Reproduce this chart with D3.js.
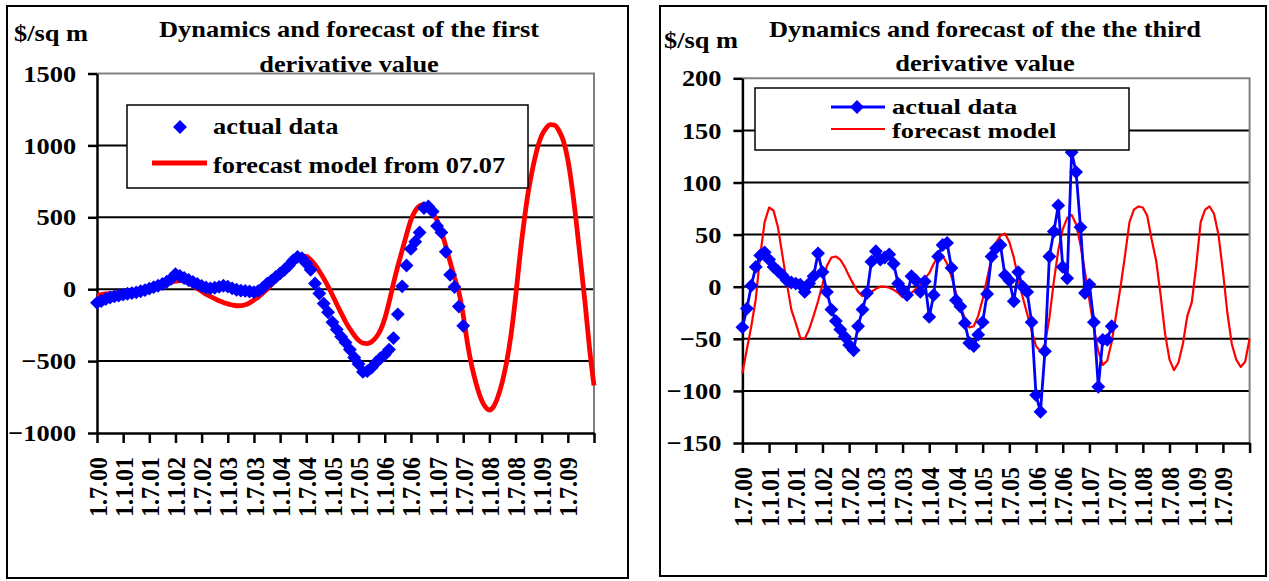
<!DOCTYPE html>
<html>
<head>
<meta charset="utf-8">
<script src="https://cdn.jsdelivr.net/npm/d3@7"></script>
<style>
  body { margin: 0; background: #fff; }
  svg { display: block; }
  text { font-family: "Liberation Serif", "Times New Roman", serif; font-weight: bold; font-size: 24px; fill: #000; }
  text.legend { font-size: 22px; }
</style>
</head>
<body>
<svg id="chart" width="1269" height="581"></svg>
<script>
// Half-year tick labels, one every 6 months starting July 2000
const tickLabels = ["1.7.00","1.1.01","1.7.01","1.1.02","1.7.02","1.1.03","1.7.03","1.1.04","1.7.04",
  "1.1.05","1.7.05","1.1.06","1.7.06","1.1.07","1.7.07","1.1.08","1.7.08","1.1.09","1.7.09"];
const monthCount = 115; // July 2000 .. January 2010, monthly steps

// First derivative, $/sq m, monthly from July 2000
const firstActual = [
  -95, -82, -68, -58, -50, -44, -38, -32, -27, -22,
  -14, -6, 4, 14, 24, 36, 52, 72, 105, 92,
  78, 64, 50, 36, 22, 12, 6, 10, 16, 24,
  18, 6, -4, -10, -12, -16, -20, -12, 8, 38,
  60, 85, 110, 135, 165, 200, 225, 215, 180, 135,
  40, -30, -100, -160, -230, -280, -330, -370, -420, -475,
  -520, -575, -570, -545, -510, -480, -455, -420, -340, -175,
  20, 165, 280, 330, 395, 565, 575, 540, 440, 395,
  260, 100, 15, -120, -255
];
const firstForecast = [
  -40, -37, -33, -30, -27, -24, -22, -18, -15, -12,
  -7, -3, 2, 9, 16, 25, 36, 48, 56, 60,
  55, 40, 25, 5, -15, -35, -50, -65, -80, -92,
  -102, -110, -115, -114, -108, -95, -75, -55, -28, 0,
  30, 60, 90, 125, 160, 190, 212, 230, 228, 205,
  170, 125, 75, 20, -40, -105, -165, -225, -275, -320,
  -355, -375, -378, -365, -335, -285, -205, -90, 40, 160,
  270, 380, 480, 545, 580, 590, 575, 530, 480, 400,
  300, 190, 80, -20, -180, -380, -540, -660, -755, -815,
  -840, -815, -745, -640, -500, -310, -60, 230, 480, 690,
  850, 980, 1070, 1120, 1145, 1140, 1100, 1030, 900, 700,
  450, 170, -110, -420, -670
];

// Third derivative, $/sq m, monthly from July 2000
const thirdActual = [
  -39, -21, 1, 19, 30, 33, 26, 19, 15, 11,
  6, 4, 3, 2, -5, 3, 10, 32, 14, -5,
  -22, -33, -41, -48, -56, -61, -38, -22, -6, 24,
  34, 26, 28, 31, 22, 3, -3, -8, 10, 6,
  -5, 5, -29, -8, 29, 40, 42, 18, -13, -19,
  -35, -54, -57, -46, -34, -7, 29, 37, 40, 11,
  6, -14, 14, 0, -5, -34, -104, -120, -62, 29,
  53, 78, 19, 8, 129, 110, 57, -6, 2, -34,
  -96, -51, -51, -38
];
const thirdForecast = [
  -83, -60, -38, -12, 30, 62, 76, 73, 57, 30,
  3, -22, -35, -49, -50, -41, -28, -14, 2, 20,
  28, 29, 26, 19, 10, 2, -5, -9, -7, -5,
  -2, 0, 0, -1, -3, -6, -10, -9, -6, -2,
  2, 8, 13, 22, 29, 30, 22, 10, -6, -20,
  -30, -39, -38, -28, -12, 8, 27, 42, 49, 51,
  43, 28, 8, -10, -26, -42, -57, -62, -55, -30,
  5, 35, 55, 66, 69, 60, 40, 14, -13, -40,
  -62, -75, -71, -53, -27, 0, 30, 62, 74, 77,
  76, 68, 45, 25, -8, -45, -70, -80, -73, -55,
  -28, -15, 20, 62, 74, 77, 70, 50, 15, -25,
  -55, -70, -77, -72, -50
];

const BLUE = "#0000ff", RED = "#ff0000";
const SX = 1.1; // horizontal stretch applied to all lettering

const svg = d3.select("#chart");

const panels = [
  {
    box: [7, 6, 628, 578],
    plot: { x0: 97, x1: 594, y0: 73.5, y1: 433 },
    yDomain: [-1000, 1500], yTicks: [-1000, -500, 0, 500, 1000, 1500],
    title: ["Dynamics and forecast of the first", "derivative value"],
    titleX: 349, titleY: [37, 72],
    unit: { x: 14, y: 41 },
    actual: firstActual, forecast: firstForecast,
    actualLine: false, forecastWidth: 4.8, forecastCurve: d3.curveMonotoneX,
    legend: { x0: 127, y0: 105, x1: 528, y1: 188, symX: 180, lineX0: 152, lineX1: 207, textX: 213,
      rows: [{ y: 127, base: 134, label: "actual data" }, { y: 163, base: 172.5, label: "forecast model from 07.07" }] }
  },
  {
    box: [660, 6, 1266, 576],
    plot: { x0: 742.4, x1: 1249.6, y0: 78.3, y1: 443 },
    yDomain: [-150, 200], yTicks: [-150, -100, -50, 0, 50, 100, 150, 200],
    title: ["Dynamics and forecast of the the third", "derivative value"],
    titleX: 985, titleY: [37, 71],
    unit: { x: 664, y: 48 },
    actual: thirdActual, forecast: thirdForecast,
    actualLine: true, forecastWidth: 2.2, forecastCurve: d3.curveLinear,
    legend: { x0: 755, y0: 88, x1: 1129, y1: 150, symX: 857, lineX0: 831, lineX1: 885, textX: 892,
      rows: [{ y: 107, base: 113.5, label: "actual data" }, { y: 129, base: 138, label: "forecast model" }] }
  }
];

const diamond = d3.symbol().type(d3.symbolSquare).size(96);

function stretchedText(g, x, y, str, anchor, cls, sx) {
  return g.append("text")
    .attr("class", cls || null)
    .attr("transform", `translate(${x},${y}) scale(${sx || SX},1)`)
    .attr("text-anchor", anchor || "start")
    .text(str);
}

panels.forEach(p => {
  const g = svg.append("g");
  const [bx0, by0, bx1, by1] = p.box;
  g.append("rect").attr("x", bx0).attr("y", by0).attr("width", bx1 - bx0).attr("height", by1 - by0)
    .attr("fill", "#fff").attr("stroke", "#000").attr("stroke-width", 2);

  // Title and unit label
  p.title.forEach((line, i) => stretchedText(g, p.titleX, p.titleY[i], line, "middle"));
  stretchedText(g, p.unit.x, p.unit.y, "$/sq m", "start");

  const { x0, x1, y0, y1 } = p.plot;
  const x = d3.scaleLinear().domain([0, monthCount - 1]).range([x0, x1]);
  const y = d3.scaleLinear().domain(p.yDomain).range([y1, y0]);

  // Plot area
  g.append("rect").attr("x", x0).attr("y", y0).attr("width", x1 - x0).attr("height", y1 - y0).attr("fill", "#fff");

  // Horizontal gridlines
  g.append("g").selectAll("line")
    .data(p.yTicks.slice(1, -1))
    .join("line")
    .attr("x1", x0).attr("x2", x1)
    .attr("y1", d => y(d)).attr("y2", d => y(d))
    .attr("stroke", "#000").attr("stroke-width", 2);

  // Grey plot-area frame on top and right
  g.append("path")
    .attr("d", `M${x0},${y0}H${x1}V${y1}`)
    .attr("fill", "none").attr("stroke", "#808080").attr("stroke-width", 2);

  // Axes
  const yAxis = d3.axisLeft(y).tickValues(p.yTicks).tickSize(9).tickSizeOuter(0).tickPadding(10)
    .tickFormat(d3.format("d"));
  const ya = g.append("g").attr("transform", `translate(${x0},0)`).call(yAxis);
  ya.selectAll("text").each(function () {
    const t = d3.select(this);
    const tx = +t.attr("x");
    t.attr("x", null).attr("transform", `translate(${tx * SX},0) scale(${SX},1)`);
  });

  const xTicks = d3.range(0, monthCount, 6);
  const xAxis = d3.axisBottom(x).tickValues(xTicks).tickSize(10).tickSizeOuter(0)
    .tickFormat((d, i) => tickLabels[i] || "");
  const xa = g.append("g").attr("transform", `translate(0,${y1})`).call(xAxis);
  xa.selectAll("text")
    .attr("x", 0).attr("y", 0).attr("dy", "0.35em")
    .attr("text-anchor", "end")
    .attr("transform", `translate(0,24) scale(1.08,1) rotate(-90)`);

  [ya, xa].forEach(a => {
    a.selectAll("text").attr("font-size", null).attr("font-family", null).attr("fill", "#000");
    a.attr("font-size", null).attr("font-family", null);
    a.select(".domain").attr("stroke", "#000").attr("stroke-width", 2.5);
    a.selectAll(".tick line").attr("stroke", "#000").attr("stroke-width", 2.5);
  });

  // Forecast model line
  const fLine = d3.line().x((d, i) => x(i)).y(d => y(d)).curve(p.forecastCurve);
  g.append("path").datum(p.forecast)
    .attr("d", fLine).attr("fill", "none")
    .attr("stroke", RED).attr("stroke-width", p.forecastWidth).attr("stroke-linejoin", "round");

  // Actual data
  if (p.actualLine) {
    const aLine = d3.line().x((d, i) => x(i)).y(d => y(d));
    g.append("path").datum(p.actual)
      .attr("d", aLine).attr("fill", "none")
      .attr("stroke", BLUE).attr("stroke-width", 2.8).attr("stroke-linejoin", "round");
  }
  g.append("g").selectAll("path")
    .data(p.actual)
    .join("path")
    .attr("d", diamond)
    .attr("transform", (d, i) => `translate(${x(i)},${y(d)}) rotate(45)`)
    .attr("fill", BLUE);

  // Legend
  const L = p.legend;
  const lg = g.append("g");
  lg.append("rect").attr("x", L.x0).attr("y", L.y0).attr("width", L.x1 - L.x0).attr("height", L.y1 - L.y0)
    .attr("fill", "#fff").attr("stroke", "#000").attr("stroke-width", 1.5);
  const r0 = L.rows[0], r1 = L.rows[1];
  if (p.actualLine) {
    lg.append("line").attr("x1", L.lineX0).attr("x2", L.lineX1).attr("y1", r0.y).attr("y2", r0.y)
      .attr("stroke", BLUE).attr("stroke-width", 2.8);
  }
  lg.append("path").attr("d", diamond)
    .attr("transform", `translate(${L.symX},${r0.y}) rotate(45)`).attr("fill", BLUE);
  const legendSX = p.actualLine ? SX * 24 / 22 : SX;
  const legendCls = p.actualLine ? "legend" : null;
  stretchedText(lg, L.textX, r0.base, r0.label, "start", legendCls, legendSX);
  lg.append("line").attr("x1", L.lineX0).attr("x2", L.lineX1).attr("y1", r1.y).attr("y2", r1.y)
    .attr("stroke", RED).attr("stroke-width", p.forecastWidth);
  stretchedText(lg, L.textX, r1.base, r1.label, "start", legendCls, legendSX);
});
</script>
</body>
</html>
